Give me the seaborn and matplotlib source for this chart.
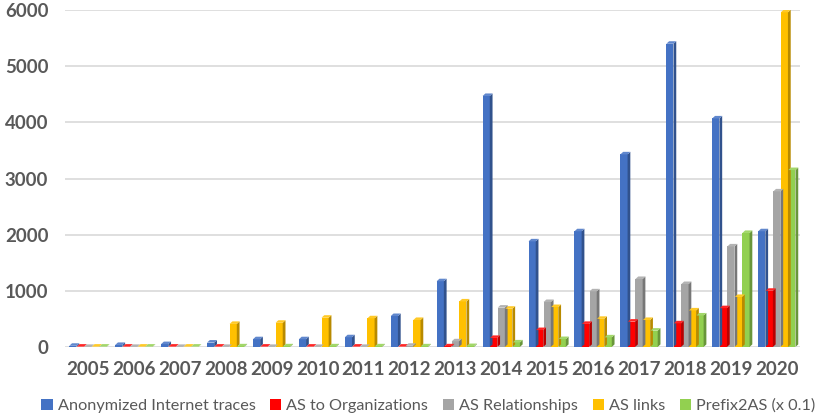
import numpy as np
import pandas as pd
import matplotlib.pyplot as plt
from matplotlib.patches import Polygon
from matplotlib.colors import to_rgb
import seaborn as sns

# =========================================
# DATA
# =========================================

years = [str(y) for y in range(2005, 2021)]

series_names = [
    "Anonymized Internet traces",
    "AS to Organizations",
    "AS Relationships",
    "AS links",
    "Prefix2AS (x 0.1)",
]

anon_traces = [20, 35, 50, 77, 137, 137, 172, 550, 1170, 4470, 1880, 2060, 3430, 5400, 4070, 2060]
as_to_org = [5, 5, 5, 5, 5, 5, 5, 5, 10, 160, 300, 410, 450, 420, 690, 1000]
as_rel = [0, 0, 0, 0, 0, 0, 0, 20, 100, 700, 800, 990, 1210, 1120, 1790, 2770]
as_links = [5, 5, 5, 410, 430, 520, 510, 480, 810, 680, 710, 500, 480, 650, 890, 5960]
prefix2as = [5, 5, 5, 10, 10, 10, 10, 10, 15, 80, 140, 170, 290, 560, 2030, 3150]

colors = ["#4472C4", "#FF0000", "#A5A5A5", "#FFC000", "#92D050"]

# =========================================
# SETTINGS
# =========================================

sns.set_theme(style="white")
plt.rcParams["font.family"] = ["Lato", "DejaVu Sans"]
text_color = "#595959"

df = pd.DataFrame({
    "year": np.repeat(years, len(series_names)),
    "series": series_names * len(years),
    "value": np.ravel(np.column_stack([anon_traces, as_to_org, as_rel, as_links, prefix2as])),
})

fig = plt.figure(figsize=(8.22, 4.20), dpi=100)
ax = fig.add_axes([0.079, 0.174, 0.894, 0.802])

sns.barplot(
    data=df, x="year", y="value", hue="series",
    hue_order=series_names, palette=colors,
    width=0.82, gap=0.05, ax=ax, legend=True,
    saturation=1, linewidth=0,
)

# fake 3D look: darker side face and lighter top face on each bar
dx, dy = 0.06, 45
for bar in list(ax.patches):
    x0 = bar.get_x()
    w = bar.get_width()
    h = bar.get_height()
    if w == 0 or np.isnan(h):
        continue
    r, g, b = to_rgb(bar.get_facecolor())
    dark = (r * 0.72, g * 0.72, b * 0.72)
    light = (min(1, r * 0.85 + 0.15), min(1, g * 0.85 + 0.15), min(1, b * 0.85 + 0.15))
    side = Polygon([(x0 + w, 0), (x0 + w + dx, dy), (x0 + w + dx, h + dy), (x0 + w, h)],
                   closed=True, facecolor=dark, edgecolor="none", zorder=bar.get_zorder())
    top = Polygon([(x0, h), (x0 + dx, h + dy), (x0 + w + dx, h + dy), (x0 + w, h)],
                  closed=True, facecolor=light, edgecolor="none", zorder=bar.get_zorder())
    ax.add_patch(side)
    ax.add_patch(top)

ax.set_ylim(0, 6000)
ax.set_xlim(-0.5, len(years) - 0.5)
ax.set_yticks(range(0, 6001, 1000))
ax.yaxis.grid(True, color="#D9D9D9", linewidth=1.2)
ax.set_axisbelow(True)
for s in ax.spines.values():
    s.set_visible(False)

ax.set_xlabel("")
ax.set_ylabel("")
ax.tick_params(axis="both", length=0, labelsize=13.5, colors=text_color)
ax.tick_params(axis="x", pad=10)
ax.tick_params(axis="y", pad=12)
for lbl in ax.get_xticklabels() + ax.get_yticklabels():
    lbl.set_fontweight("bold")

handles, labels = ax.get_legend_handles_labels()
ax.legend_.remove()
fig.legend(
    handles, labels, loc="center", bbox_to_anchor=(0.521, 0.034), ncol=5,
    frameon=False, fontsize=11.7, labelcolor=text_color,
    handlelength=0.7, handleheight=0.7, handletextpad=0.3, columnspacing=0.9,
)

plt.savefig("out.png", dpi=100)
plt.close()
